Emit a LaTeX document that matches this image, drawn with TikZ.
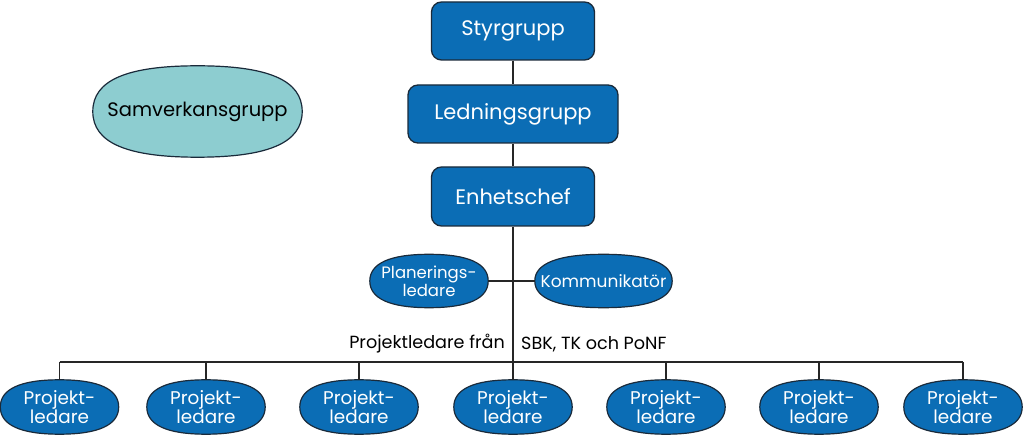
\documentclass[tikz,border=0pt]{standalone}
\usepackage{fontspec}
\setmainfont{Poppins}
\usetikzlibrary{calc,backgrounds}
\definecolor{boxblue}{HTML}{0B6DB5}
\definecolor{edge}{HTML}{1A2A3A}
\definecolor{teal}{HTML}{8DCDD0}
\tikzset{
  box/.style={draw=edge, line width=1.3pt, fill=boxblue, rounded corners=10pt, text=white, font=\fontsize{21}{24}\selectfont, inner sep=0pt},
  oval/.style={rectangle, text=white, inner sep=0pt, align=center},
  ovalline/.style={draw=edge, line width=1.2pt},
  conn/.style={draw=black!85, line width=1.1pt},
  lbl/.style={font=\fontsize{17.6}{20}\selectfont, inner sep=0pt}
}
\newcommand\myoval[3]{%
  \filldraw[ovalline, fill=#2]
    (#1.east) .. controls ($(#1.east)!#3!(#1.north east)$) and ($(#1.north)!#3!(#1.north east)$) .. (#1.north)
    .. controls ($(#1.north)!#3!(#1.north west)$) and ($(#1.west)!#3!(#1.north west)$) .. (#1.west)
    .. controls ($(#1.west)!#3!(#1.south west)$) and ($(#1.south)!#3!(#1.south west)$) .. (#1.south)
    .. controls ($(#1.south)!#3!(#1.south east)$) and ($(#1.east)!#3!(#1.south east)$) .. (#1.east) -- cycle;}
\begin{document}
\begin{tikzpicture}[x=1pt,y=-1pt]
\useasboundingbox (0,0) rectangle (1023,435);
\node[box, minimum width=163pt, minimum height=58pt] (styr) at (513,31) {Styrgrupp};
\node[box, minimum width=210pt, minimum height=58pt] (led) at (513,114) {Ledningsgrupp};
\node[box, minimum width=163pt, minimum height=59pt] (enh) at (513,196.5) {Enhetschef};
\node[rectangle, inner sep=0pt, minimum width=209pt, minimum height=91pt, font=\fontsize{19.5}{22}\selectfont] (samv) at (197.5,111.5) {Samverkansgrupp};
\node[oval, minimum width=118pt, minimum height=53pt, font=\fontsize{16.5}{18}\selectfont] (plan) at (429,281) {Planerings-\\ledare};
\node[oval, minimum width=137pt, minimum height=53pt, font=\fontsize{17}{19}\selectfont] (komm) at (603.5,281) {Kommunikatör};
\coordinate (bus) at (513,362);
\node[lbl, anchor=east] (t1) at (505,344) {Projektledare från};
\node[lbl, anchor=west] (t2) at (521,344) {SBK, TK och PoNF};
\foreach \i/\x in {1/59.5,2/206,3/359,4/513,5/666,6/819,7/963}{
  \node[oval, minimum width=118pt, minimum height=54pt, font=\fontsize{18.4}{18}\selectfont] (p\i) at (\x,407) {Projekt-\\ledare};
  \coordinate (b\i) at (\x,362);
}
\begin{pgfonlayer}{background}
\myoval{samv}{teal}{0.68}
\myoval{plan}{boxblue}{0.66}
\myoval{komm}{boxblue}{0.66}
\foreach \i in {1,...,7}{ \myoval{p\i}{boxblue}{0.66} }
\end{pgfonlayer}
\draw[conn] (styr) -- (led);
\draw[conn] (led) -- (enh);
\draw[conn] (enh) -- (bus);
\draw[conn] (plan) -- (komm);
\draw[conn] (b1) -- (b7);
\foreach \i in {1,...,7}{ \draw[conn] (b\i) -- (p\i); }
\end{tikzpicture}
\end{document}
